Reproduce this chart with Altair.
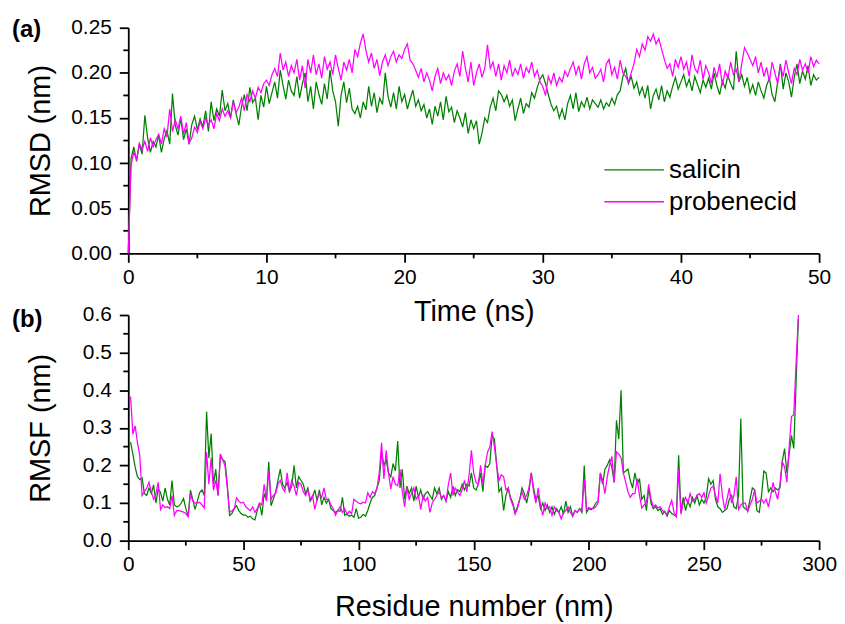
import altair as alt
import pandas as pd

FONT = "Liberation Sans"
GREEN = "#008000"
MAGENTA = "#ff00ff"
W, H = 695, 227

series_names = ["salicin", "probenecid"]

# ---------------- (a) RMSD vs time ----------------
time_ns = [round(i * 0.2, 1) for i in range(251)]

rmsd_salicin = [
    0.000, 0.105, 0.118, 0.102, 0.121, 0.110, 0.153, 0.128, 0.112, 0.124,
    0.118, 0.131, 0.112, 0.127, 0.136, 0.121, 0.177, 0.142, 0.131, 0.150,
    0.126, 0.138, 0.121, 0.143, 0.152, 0.137, 0.149, 0.140, 0.158, 0.135,
    0.168, 0.147, 0.160, 0.152, 0.181, 0.158, 0.166, 0.150, 0.170, 0.155,
    0.142, 0.163, 0.176, 0.158, 0.184, 0.167, 0.172, 0.148, 0.175, 0.162,
    0.185, 0.166, 0.178, 0.190, 0.172, 0.203, 0.186, 0.171, 0.192, 0.180,
    0.175, 0.196, 0.172, 0.188, 0.200, 0.168, 0.185, 0.160, 0.190, 0.176,
    0.165, 0.188, 0.171, 0.203, 0.180, 0.168, 0.141, 0.175, 0.190, 0.167,
    0.183, 0.160, 0.155, 0.163, 0.150, 0.168, 0.159, 0.185, 0.163, 0.178,
    0.156, 0.172, 0.165, 0.200, 0.174, 0.162, 0.178, 0.160, 0.185, 0.168,
    0.176, 0.160, 0.171, 0.181, 0.163, 0.170, 0.158, 0.165, 0.150, 0.160,
    0.143, 0.163, 0.152, 0.168, 0.148, 0.174, 0.157, 0.162, 0.145, 0.158,
    0.150, 0.140, 0.156, 0.133, 0.148, 0.138, 0.147, 0.121, 0.133, 0.150,
    0.145, 0.162, 0.172, 0.158, 0.180, 0.176, 0.168, 0.175, 0.163, 0.170,
    0.147, 0.160, 0.172, 0.155, 0.166, 0.162, 0.178, 0.172, 0.184, 0.193,
    0.198, 0.188, 0.176, 0.165, 0.158, 0.163, 0.150, 0.160, 0.148, 0.166,
    0.175, 0.160, 0.178, 0.157, 0.168, 0.162, 0.173, 0.160, 0.170, 0.166,
    0.162, 0.170, 0.160, 0.167, 0.163, 0.172, 0.165, 0.176, 0.180, 0.196,
    0.205, 0.188, 0.196, 0.183, 0.190, 0.176, 0.184, 0.172, 0.186, 0.160,
    0.175, 0.182, 0.170, 0.186, 0.168, 0.180, 0.173, 0.185, 0.195, 0.182,
    0.190, 0.198, 0.185, 0.193, 0.180, 0.196, 0.187, 0.178, 0.192, 0.184,
    0.194, 0.182, 0.200, 0.186, 0.176, 0.191, 0.183, 0.197, 0.188, 0.181,
    0.224, 0.190, 0.198, 0.185, 0.195, 0.178, 0.187, 0.175, 0.190, 0.180,
    0.172, 0.186, 0.194, 0.176, 0.168, 0.190, 0.210, 0.182, 0.200, 0.190,
    0.173, 0.195, 0.210, 0.188, 0.202, 0.193, 0.208, 0.186, 0.198, 0.192,
    0.195,
]

rmsd_probenecid = [
    0.000, 0.098, 0.112, 0.104, 0.122, 0.115, 0.124, 0.113, 0.128, 0.118,
    0.126, 0.132, 0.121, 0.138, 0.129, 0.160, 0.135, 0.148, 0.138, 0.152,
    0.132, 0.145, 0.122, 0.128, 0.140, 0.134, 0.146, 0.138, 0.150, 0.142,
    0.148, 0.138, 0.155, 0.147, 0.160, 0.152, 0.158, 0.150, 0.168, 0.156,
    0.162, 0.172, 0.158, 0.176, 0.168, 0.180, 0.172, 0.184, 0.178, 0.188,
    0.192, 0.186, 0.198, 0.205, 0.196, 0.222, 0.203, 0.212, 0.196, 0.208,
    0.200, 0.215, 0.192, 0.208, 0.183, 0.215, 0.200, 0.220, 0.198, 0.210,
    0.194, 0.218, 0.204, 0.212, 0.198, 0.220, 0.205, 0.192, 0.212, 0.203,
    0.215, 0.200, 0.226, 0.218, 0.233, 0.243, 0.225, 0.212, 0.222, 0.205,
    0.215, 0.197, 0.212, 0.220, 0.208, 0.218, 0.224, 0.212, 0.220, 0.216,
    0.226, 0.232, 0.214, 0.210, 0.203, 0.195, 0.205, 0.190, 0.200, 0.192,
    0.180, 0.196, 0.205, 0.188, 0.200, 0.192, 0.198, 0.186, 0.202, 0.210,
    0.196, 0.224, 0.205, 0.190, 0.212, 0.186, 0.200, 0.210, 0.195, 0.205,
    0.231, 0.205, 0.212, 0.196, 0.210, 0.192, 0.208, 0.200, 0.214, 0.196,
    0.205, 0.198, 0.210, 0.194, 0.206, 0.200, 0.212, 0.196, 0.203, 0.190,
    0.185, 0.175, 0.196, 0.188, 0.200, 0.186, 0.195, 0.190, 0.202, 0.196,
    0.205, 0.212, 0.198, 0.208, 0.193, 0.210, 0.218, 0.200, 0.206, 0.194,
    0.198, 0.204, 0.190, 0.210, 0.215, 0.198, 0.206, 0.193, 0.214, 0.200,
    0.196, 0.190, 0.200, 0.210, 0.226, 0.218, 0.232, 0.225, 0.240, 0.235,
    0.243, 0.232, 0.238, 0.226, 0.215, 0.205, 0.210, 0.196, 0.215, 0.206,
    0.218, 0.204, 0.212, 0.196, 0.220, 0.205, 0.200, 0.214, 0.193, 0.208,
    0.200, 0.188, 0.206, 0.195, 0.210, 0.186, 0.202, 0.194, 0.212, 0.198,
    0.204, 0.190, 0.210, 0.228, 0.222, 0.215, 0.208, 0.218, 0.200, 0.212,
    0.196, 0.206, 0.190, 0.212, 0.200, 0.188, 0.208, 0.196, 0.214, 0.200,
    0.188, 0.205, 0.198, 0.215, 0.203, 0.210, 0.200, 0.218, 0.207, 0.214,
    0.210,
]

time_major = [0, 10, 20, 30, 40, 50]
time_minor = [5, 15, 25, 35, 45]
rmsd_major = [0.0, 0.05, 0.10, 0.15, 0.20, 0.25]
rmsd_minor = [0.025, 0.075, 0.125, 0.175, 0.225]

# ---------------- (b) RMSF vs residue ----------------
residue = list(range(1, 292))

rmsf_salicin = [
    0.262, 0.230, 0.195, 0.170, 0.162, 0.167, 0.125, 0.120, 0.140, 0.125,
    0.148, 0.100, 0.138, 0.128, 0.105, 0.140, 0.110, 0.095, 0.160, 0.095,
    0.090, 0.092, 0.100, 0.112, 0.085, 0.066, 0.134, 0.110, 0.083, 0.105,
    0.128, 0.135, 0.120, 0.343, 0.220, 0.285, 0.150, 0.190, 0.120, 0.227,
    0.215, 0.210, 0.150, 0.067, 0.072, 0.085, 0.093, 0.080, 0.072, 0.068,
    0.068, 0.062, 0.065, 0.058, 0.055, 0.080, 0.100, 0.067, 0.125, 0.110,
    0.210, 0.093, 0.110, 0.130, 0.160, 0.190, 0.150, 0.140, 0.155, 0.130,
    0.145, 0.200, 0.140, 0.170, 0.160, 0.150, 0.125, 0.140, 0.105, 0.115,
    0.135, 0.105, 0.135, 0.095, 0.115, 0.100, 0.110, 0.085, 0.080, 0.075,
    0.080, 0.078, 0.115, 0.068, 0.070, 0.065, 0.068, 0.062, 0.085, 0.060,
    0.062, 0.070, 0.065, 0.080, 0.100, 0.115, 0.120, 0.140, 0.160, 0.235,
    0.200, 0.215, 0.180, 0.170, 0.205, 0.185, 0.265, 0.140, 0.190, 0.110,
    0.145, 0.125, 0.140, 0.105, 0.145, 0.115, 0.135, 0.110, 0.125, 0.130,
    0.120, 0.110, 0.140, 0.125, 0.140, 0.110, 0.120, 0.105, 0.130, 0.115,
    0.145, 0.120, 0.135, 0.130, 0.150, 0.135, 0.150, 0.145, 0.180, 0.140,
    0.135, 0.150, 0.180, 0.130, 0.200, 0.195, 0.205, 0.280, 0.270, 0.200,
    0.130, 0.140, 0.080, 0.120, 0.140, 0.115, 0.100, 0.075, 0.090, 0.110,
    0.140, 0.125, 0.100, 0.130, 0.180, 0.140, 0.110, 0.120, 0.085, 0.100,
    0.080, 0.095, 0.075, 0.090, 0.070, 0.085, 0.075, 0.090, 0.070, 0.105,
    0.075, 0.090, 0.065, 0.080, 0.075, 0.085, 0.075, 0.200, 0.075, 0.085,
    0.082, 0.088, 0.100, 0.105, 0.180, 0.150, 0.190, 0.200, 0.215, 0.195,
    0.155, 0.320, 0.270, 0.400, 0.180, 0.185, 0.190, 0.160, 0.140, 0.180,
    0.150, 0.165, 0.110, 0.120, 0.080, 0.140, 0.100, 0.085, 0.090, 0.080,
    0.085, 0.070, 0.078, 0.065, 0.080, 0.072, 0.068, 0.065, 0.227, 0.075,
    0.115, 0.080, 0.105, 0.090, 0.115, 0.100, 0.120, 0.095, 0.110, 0.100,
    0.115, 0.165, 0.150, 0.160, 0.110, 0.090, 0.085, 0.075, 0.080, 0.085,
    0.110, 0.120, 0.090, 0.085, 0.120, 0.325, 0.090, 0.085, 0.080, 0.110,
    0.140, 0.135, 0.080, 0.075, 0.120, 0.185, 0.180, 0.130, 0.140, 0.130,
    0.140, 0.135, 0.140, 0.210, 0.245, 0.180, 0.230, 0.280, 0.245, 0.420,
    0.590,
]

rmsf_probenecid = [
    0.383, 0.283, 0.305, 0.260, 0.226, 0.120, 0.130, 0.140, 0.155, 0.130,
    0.110, 0.125, 0.155, 0.083, 0.095, 0.088, 0.090, 0.085, 0.120, 0.067,
    0.080, 0.080, 0.078, 0.076, 0.072, 0.063, 0.125, 0.105, 0.100, 0.100,
    0.102, 0.095, 0.087, 0.235, 0.150, 0.220, 0.134, 0.160, 0.120, 0.230,
    0.215, 0.200, 0.140, 0.075, 0.080, 0.083, 0.114, 0.105, 0.100, 0.102,
    0.090, 0.085, 0.080, 0.090, 0.075, 0.085, 0.100, 0.095, 0.150, 0.105,
    0.186, 0.110, 0.120, 0.125, 0.150, 0.160, 0.140, 0.130, 0.180, 0.130,
    0.160, 0.145, 0.120, 0.155, 0.150, 0.130, 0.120, 0.135, 0.110, 0.120,
    0.083, 0.110, 0.125, 0.115, 0.140, 0.110, 0.110, 0.095, 0.085, 0.068,
    0.080, 0.090, 0.075, 0.085, 0.070, 0.078, 0.072, 0.110, 0.105, 0.100,
    0.098, 0.102, 0.100, 0.127, 0.115, 0.130, 0.125, 0.140, 0.180, 0.260,
    0.164, 0.240, 0.180, 0.137, 0.170, 0.150, 0.146, 0.190, 0.130, 0.090,
    0.140, 0.110, 0.125, 0.140, 0.110, 0.120, 0.083, 0.120, 0.105, 0.115,
    0.075, 0.100, 0.110, 0.120, 0.130, 0.115, 0.120, 0.105, 0.150, 0.180,
    0.120, 0.140, 0.130, 0.120, 0.135, 0.160, 0.130, 0.175, 0.240, 0.180,
    0.155, 0.150, 0.200, 0.150, 0.200, 0.235, 0.248, 0.290, 0.250, 0.200,
    0.160, 0.175, 0.170, 0.135, 0.140, 0.110, 0.095, 0.070, 0.085, 0.110,
    0.130, 0.110, 0.120, 0.140, 0.180, 0.130, 0.100, 0.140, 0.095, 0.067,
    0.100, 0.085, 0.090, 0.067, 0.090, 0.080, 0.075, 0.058, 0.075, 0.080,
    0.090, 0.075, 0.065, 0.080, 0.075, 0.085, 0.080, 0.164, 0.083, 0.088,
    0.085, 0.085, 0.090, 0.100, 0.180, 0.160, 0.125, 0.170, 0.200, 0.224,
    0.155, 0.236, 0.230, 0.220, 0.180, 0.155, 0.130, 0.115, 0.125, 0.125,
    0.165, 0.120, 0.087, 0.095, 0.100, 0.150, 0.110, 0.090, 0.095, 0.087,
    0.090, 0.080, 0.075, 0.070, 0.090, 0.107, 0.075, 0.064, 0.190, 0.070,
    0.100, 0.115, 0.100, 0.125, 0.105, 0.110, 0.120, 0.125, 0.115, 0.127,
    0.100, 0.120, 0.140, 0.145, 0.120, 0.100, 0.178, 0.120, 0.083, 0.110,
    0.140, 0.100, 0.120, 0.170, 0.083, 0.095, 0.100, 0.100, 0.077, 0.095,
    0.110, 0.135, 0.100, 0.105, 0.110, 0.100, 0.110, 0.090, 0.120, 0.155,
    0.130, 0.110, 0.150, 0.210, 0.196, 0.155, 0.250, 0.330, 0.335, 0.470,
    0.600,
]

res_major = [0, 50, 100, 150, 200, 250, 300]
res_minor = [25, 75, 125, 175, 225, 275]
rmsf_major = [0.0, 0.1, 0.2, 0.3, 0.4, 0.5, 0.6]
rmsf_minor = [0.05, 0.15, 0.25, 0.35, 0.45, 0.55]


def panel(x_vals, s_vals, p_vals, x_major, x_minor, y_major, y_minor,
          xdom, ydom, yfmt, xtitle, ytitle, xtitle_y, tag, tag_y, with_legend):
    xscale = alt.Scale(domain=xdom, nice=False, zero=False)
    yscale = alt.Scale(domain=ydom, nice=False, zero=False)
    xaxis = alt.Axis(values=x_major, format="d", title=xtitle,
                     titleX=W / 2, titleY=xtitle_y, titleAlign="center",
                     titleBaseline="middle")
    yaxis = alt.Axis(values=y_major, format=yfmt, title=ytitle,
                     titleX=-88, titleY=H / 2, titleAngle=270,
                     titleAlign="center", titleBaseline="middle")

    df_s = pd.DataFrame({"x": x_vals, "y": s_vals})
    df_p = pd.DataFrame({"x": x_vals, "y": p_vals})

    line_s = alt.Chart(df_s).mark_line(color=GREEN, strokeWidth=1.25).encode(
        x=alt.X("x:Q", scale=xscale, axis=xaxis),
        y=alt.Y("y:Q", scale=yscale, axis=yaxis),
    )
    line_p = alt.Chart(df_p).mark_line(color=MAGENTA, strokeWidth=1.25).encode(
        x=alt.X("x:Q", scale=xscale, axis=xaxis),
        y=alt.Y("y:Q", scale=yscale, axis=yaxis),
    )
    minor_x = alt.Chart(pd.DataFrame({"x": x_minor})).mark_rule(
        color="black", strokeWidth=1.8).encode(
        x=alt.X("x:Q", scale=xscale, axis=xaxis),
        y=alt.value(H), y2=alt.value(H + 5),
    )
    minor_y = alt.Chart(pd.DataFrame({"y": y_minor})).mark_rule(
        color="black", strokeWidth=1.8).encode(
        y=alt.Y("y:Q", scale=yscale, axis=yaxis),
        x=alt.value(0), x2=alt.value(-5),
    )
    tag_text = alt.Chart(pd.DataFrame({"t": [tag]})).mark_text(
        font=FONT, fontSize=24, fontWeight="bold", align="left",
        baseline="middle", color="black").encode(
        x=alt.value(-117), y=alt.value(tag_y), text="t:N")

    layers = [line_s, line_p, minor_x, minor_y, tag_text]

    if with_legend:
        leg_colors = [GREEN, MAGENTA]
        leg_rows = [143, 175]
        for name, col, yy in zip(series_names, leg_colors, leg_rows):
            ldf = pd.DataFrame({"name": [name]})
            layers.append(alt.Chart(ldf).mark_rule(color=col, strokeWidth=1.5).encode(
                x=alt.value(479), x2=alt.value(539), y=alt.value(yy)))
            layers.append(alt.Chart(ldf).mark_text(
                font=FONT, fontSize=26, align="left", baseline="middle",
                color="black").encode(x=alt.value(544), y=alt.value(yy), text="name:N"))

    return alt.layer(*layers).properties(width=W, height=H)


chart_a = panel(time_ns, rmsd_salicin, rmsd_probenecid, time_major, time_minor,
                rmsd_major, rmsd_minor, [0, 50], [0, 0.25], ".2f",
                "Time (ns)", "RMSD (nm)", 59, "(a)", 2, True)
chart_b = panel(residue, rmsf_salicin, rmsf_probenecid, res_major, res_minor,
                rmsf_major, rmsf_minor, [0, 300], [0, 0.6], ".1f",
                "Residue number (nm)", "RMSF (nm)", 66, "(b)", 5, False)

chart = alt.vconcat(chart_a, chart_b, spacing=62, bounds="flush").properties(
    padding={"left": 4, "top": 7, "right": 0, "bottom": 0}
).configure_view(strokeWidth=0).configure_axis(
    grid=False,
    domainColor="black", domainWidth=1.8,
    tickColor="black", tickWidth=1.8, tickSize=9,
    labelFont=FONT, labelFontSize=21, labelColor="black",
    titleFont=FONT, titleFontSize=29, titleFontWeight="normal", titleColor="black",
    labelFlush=False, labelOverlap=False,
).configure_axisX(labelPadding=4).configure_axisY(labelPadding=8)

chart.save("out.html", embed_options={"renderer": "svg", "actions": False})
